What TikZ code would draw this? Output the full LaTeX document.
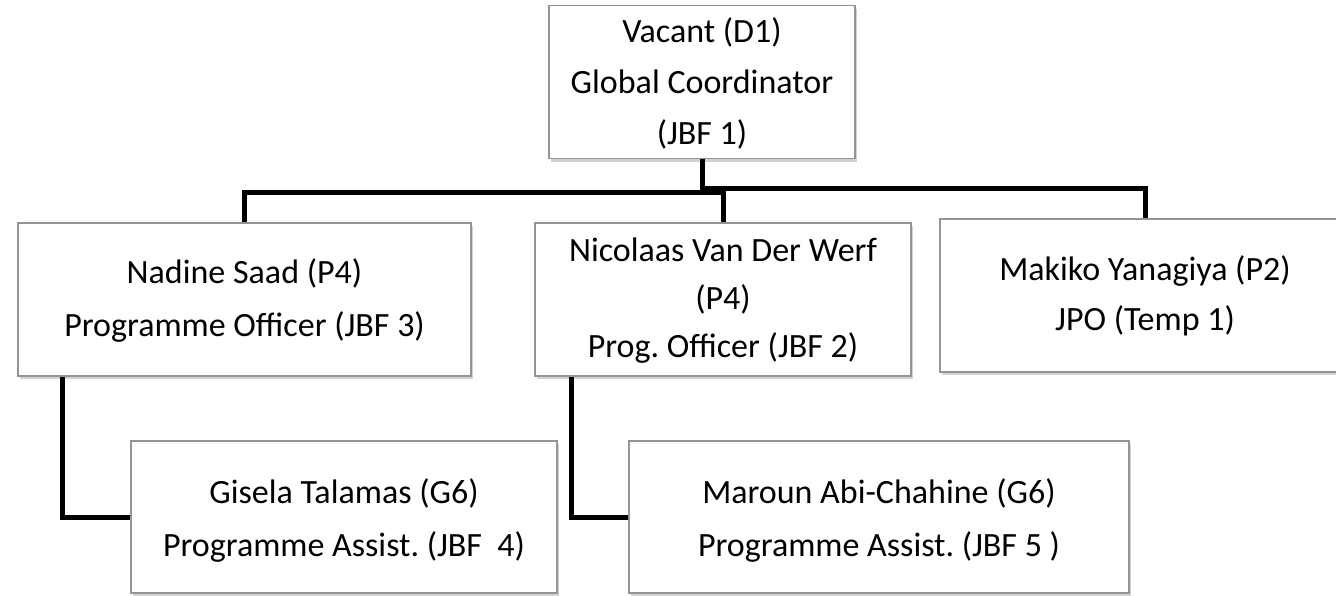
\documentclass[tikz,border=0pt]{standalone}
\usepackage{fontspec}
\setmainfont{Carlito}
\frenchspacing
\usetikzlibrary{shadows}
\definecolor{boxgray}{HTML}{949494}
\newcommand\boxtext[3]{\raisebox{#2}[\height][\depth]{\fontsize{34}{#1}\selectfont
  \begin{tabular}{@{}c@{}}#3\end{tabular}}}
\begin{document}
\begin{tikzpicture}[x=1pt,y=-1pt,
  box/.style={draw=boxgray, line width=1.5pt, fill=white, align=center, inner sep=0pt,
    drop shadow={opacity=0.25, shadow xshift=2pt, shadow yshift=-3pt, fill=black!70}},
  link/.style={line width=5pt, line join=miter}]
\useasboundingbox[fill=white] (0,0) rectangle (1336,595);

\node[box, minimum width=306pt, minimum height=150pt] (top) at (702,82)
  {\boxtext{51pt}{-1pt}{Vacant (D1)\\Global Coordinator\\(JBF 1)}};
\node[box, minimum width=453pt, minimum height=153pt] (nadine) at (244.5,299.5)
  {\boxtext{53pt}{0pt}{Nadine Saad (P4)\\Programme Officer (JBF 3)}};
\node[box, minimum width=376pt, minimum height=153pt] (nicolaas) at (723,299.5)
  {\boxtext{48pt}{0pt}{Nicolaas Van Der Werf\\(P4)\\Prog. Officer (JBF 2)}};
\node[box, minimum width=410pt, minimum height=153pt] (makiko) at (1145,295.5)
  {\boxtext{50pt}{0pt}{Makiko Yanagiya (P2)\\JPO (Temp 1)}};
\node[box, minimum width=426pt, minimum height=152pt] (gisela) at (344,517)
  {\boxtext{53pt}{-2pt}{Gisela Talamas (G6)\\Programme Assist. (JBF~~4)}};
\node[box, minimum width=500pt, minimum height=152pt] (maroun) at (879,517)
  {\boxtext{53pt}{-2pt}{Maroun Abi-Chahine (G6)\\Programme Assist. (JBF 5 )}};

\draw[link] (top.south) -- ++(0,33) -| (nadine.north);
\draw[link] (top.south) -- ++(0,33) -| (nicolaas.north);
\draw[link] (top.south) -- ++(0,29) -| (makiko.north);
\draw[link] ([xshift=45pt]nadine.south west) |- (gisela.west);
\draw[link] ([xshift=37pt]nicolaas.south west) |- (maroun.west);
\end{tikzpicture}
\end{document}
